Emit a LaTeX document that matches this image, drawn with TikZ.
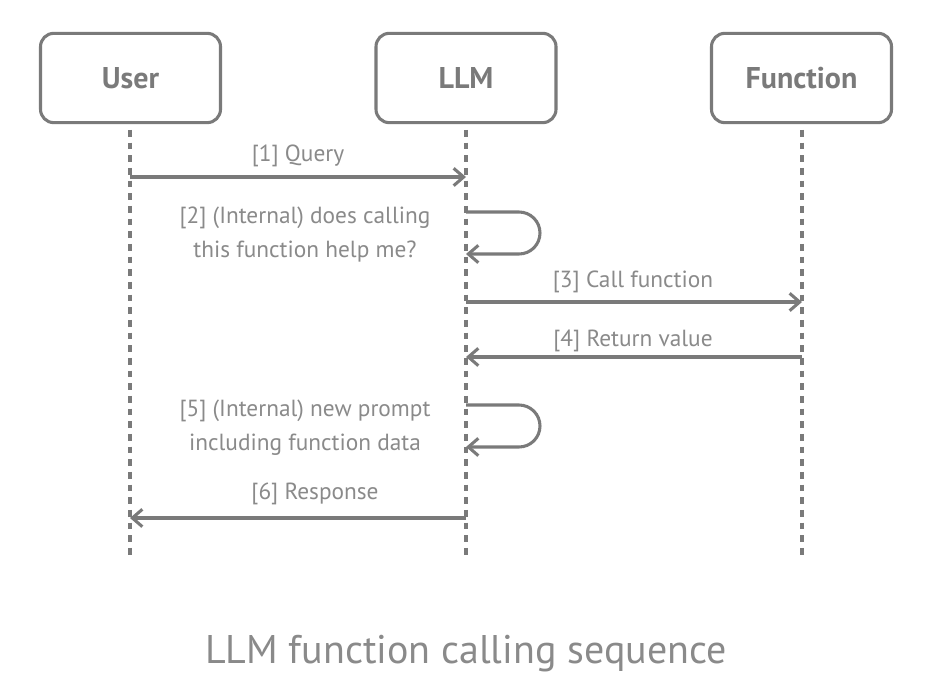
\documentclass[tikz,border=0pt]{standalone}
\usepackage{fontspec}
\setmainfont{PT Sans}
\usetikzlibrary{arrows.meta}
\definecolor{linegray}{HTML}{7A7A7A}
\definecolor{textgray}{HTML}{8A8A8A}
\begin{document}
\begin{tikzpicture}[x=0.75pt,y=-0.75pt,
  actor/.style={draw=linegray, line width=2.3pt, rounded corners=10pt,
    minimum width=135pt, minimum height=67pt, text=linegray,
    font=\fontsize{22.5}{26}\selectfont\bfseries},
  life/.style={draw=linegray, line width=2.6pt, dash pattern=on 5pt off 4.5pt},
  msg/.style={draw=linegray, line width=2.3pt,
    -{Straight Barb[length=7.5pt,width=13pt,line width=2.3pt]}},
  lbl/.style={text=textgray, font=\fontsize{17.5}{25.5}\selectfont, align=center, inner sep=0pt},
  ttl/.style={text=textgray, font=\fontsize{30}{36}\selectfont, inner sep=0pt}]
\fill[white] (0,0) rectangle (926,695);
\useasboundingbox (0,0) rectangle (926,695);

% actors
\node[actor] (user) at (130.5,78) {User};
\node[actor] (llm)  at (466,78) {LLM};
\node[actor] (func) at (801.5,78) {Function};

% lifeline ends
\coordinate (userend) at (130,556);
\coordinate (llmend)  at (466,556);
\coordinate (funcend) at (802,556);
\draw[life] (130,130) -- (userend);
\draw[life] (466,130) -- (llmend);
\draw[life] (802,130) -- (funcend);

% message points
\coordinate (u1) at (130,177);
\coordinate (l1) at (466,177);
\coordinate (l2a) at (466,212);
\coordinate (l2b) at (466,254);
\coordinate (l3) at (466,302);
\coordinate (f3) at (802,302);
\coordinate (f4) at (802,357);
\coordinate (l4) at (466,357);
\coordinate (l5a) at (466,405);
\coordinate (l5b) at (466,447);
\coordinate (l6) at (466,518);
\coordinate (u6) at (130,518);

\draw[msg] (u1) -- (l1);
\draw[msg] (l2a) -- ++(53,0) arc[start angle=90, end angle=-90, radius=15.75pt] -- (l2b);
\draw[msg] (l3) -- (f3);
\draw[msg] (f4) -- (l4);
\draw[msg] (l5a) -- ++(53,0) arc[start angle=90, end angle=-90, radius=15.75pt] -- (l5b);
\draw[msg] (l6) -- (u6);

% labels
\node[lbl] (t1) at (298,156) {[1] Query};
\node[lbl] (t2) at (305,235) {[2] (Internal) does calling\\this function help me?};
\node[lbl] (t3) at (633,282) {[3] Call function};
\node[lbl] (t4) at (633,341) {[4] Return value};
\node[lbl] (t5) at (305,428) {[5] (Internal) new prompt\\including function data};
\node[lbl] (t6) at (315,494) {[6] Response};

\node[ttl] (title) at (466,654) {LLM function calling sequence};
\end{tikzpicture}
\end{document}
